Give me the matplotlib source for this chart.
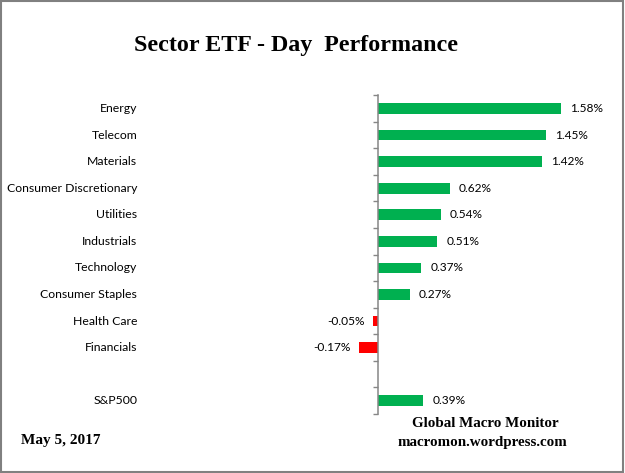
"""
Sector ETF - Day Performance, horizontal bar chart.
Writes out.png.
"""

import numpy as np
import matplotlib
matplotlib.use("Agg")
import matplotlib.pyplot as plt
from matplotlib.patches import Rectangle

# Data (a blank entry leaves the gap before the index row)
categories = ["Energy", "Telecom", "Materials", "Consumer Discretionary",
              "Utilities", "Industrials", "Technology", "Consumer Staples",
              "Health Care", "Financials", "", "S&P500"]
values = [1.58, 1.45, 1.42, 0.62, 0.54, 0.51, 0.37, 0.27, -0.05, -0.17, None, 0.39]

GREEN = "#00B050"
RED = "#FF0000"
AXIS_GREY = "#868686"
LABEL_FONT = "Lato"
SERIF = "Liberation Serif"

fig = plt.figure(figsize=(6.25, 4.73), dpi=100)
ax = fig.add_axes([0.236, 0.1247, 0.739, 0.674])

# Bars, skipping the blank row
pos = np.arange(len(categories))
for y, v in zip(pos, values):
    if v is None:
        continue
    ax.barh(y, v, height=0.4, color=GREEN if v >= 0 else RED)
    # value label just past the end of the bar
    if v >= 0:
        ax.annotate(f"{v:.2f}%", (v, y), xytext=(6.5, 0), textcoords="offset points",
                    ha="left", va="center", fontsize=8.6, family=LABEL_FONT)
    else:
        ax.annotate(f"{v:.2f}%", (v, y), xytext=(-6, 0), textcoords="offset points",
                    ha="right", va="center", fontsize=8.6, family=LABEL_FONT)

# Category labels at the low end of the axis
for y, name in zip(pos, categories):
    ax.text(-0.022, y, name, transform=ax.get_yaxis_transform(),
            ha="right", va="center", fontsize=8.8, family=LABEL_FONT)

ax.set_xlim(-2, 2)
ax.set_ylim(len(categories) - 0.5, -0.5)

# Axis line at zero with tick marks between categories
for side in ["top", "right", "bottom"]:
    ax.spines[side].set_visible(False)
ax.spines["left"].set_position(("data", 0))
ax.spines["left"].set_color(AXIS_GREY)
ax.spines["left"].set_linewidth(1.1)
ax.set_xticks([])
ax.set_yticks([])
ax.set_yticks(np.arange(-0.5, len(categories)), minor=True)
ax.tick_params(axis="y", which="minor", length=3.8, width=1.0, color=AXIS_GREY,
               direction="out", labelleft=False)

# Titles and notes
fig.text(0.474, 0.903, "Sector ETF - Day  Performance", ha="center", va="center",
         fontsize=17.3, fontweight="bold", family=SERIF)
fig.text(0.034, 0.069, "May 5, 2017", ha="left", va="center",
         fontsize=11, fontweight="bold", family=SERIF)
fig.text(0.777, 0.104, "Global Macro Monitor", ha="center", va="center",
         fontsize=10.8, fontweight="bold", family=SERIF)
fig.text(0.772, 0.065, "macromon.wordpress.com", ha="center", va="center",
         fontsize=10.8, fontweight="bold", family=SERIF)

# Grey chart border
fig.patches.append(Rectangle((0.001, 0.002), 0.996, 0.996, transform=fig.transFigure,
                             fill=False, edgecolor="#808080", linewidth=1.5))

fig.savefig("out.png", dpi=100)
